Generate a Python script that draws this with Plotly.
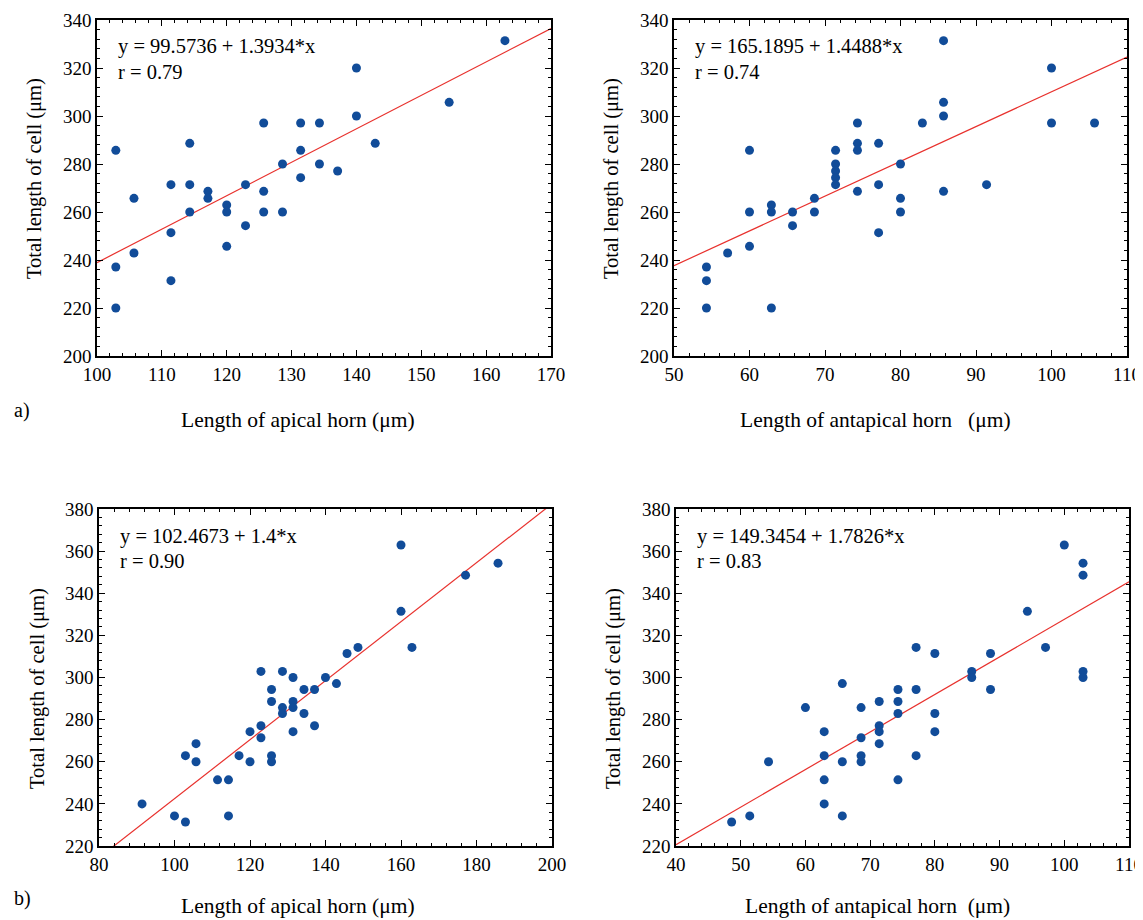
import plotly.graph_objects as go

# ---------------- data ----------------
# a) apical horn vs total length
a_apical_x = [102.9, 102.9, 102.9, 105.7, 105.7, 111.4, 111.4, 111.4, 114.3, 114.3, 114.3,
              117.1, 117.1, 120.0, 120.0, 120.0, 122.9, 122.9, 125.7, 125.7, 125.7, 128.6,
              128.6, 131.4, 131.4, 131.4, 134.3, 134.3, 137.1, 140.0, 140.0, 142.9, 154.3, 162.9]
a_apical_y = [285.7, 237.1, 220.0, 265.7, 242.9, 271.4, 251.4, 231.4, 288.6, 271.4, 260.0,
              268.6, 265.7, 262.9, 260.0, 245.7, 271.4, 254.3, 297.1, 268.6, 260.0, 280.0,
              260.0, 297.1, 285.7, 274.3, 297.1, 280.0, 277.1, 320.0, 300.0, 288.6, 305.7, 331.4]

# a) antapical horn vs total length
a_antapical_x = [54.3, 54.3, 54.3, 57.1, 60.0, 60.0, 60.0, 62.9, 62.9, 62.9, 65.7, 65.7, 68.6,
                 68.6, 71.4, 71.4, 71.4, 71.4, 71.4, 74.3, 74.3, 74.3, 74.3, 77.1, 77.1, 77.1,
                 80.0, 80.0, 80.0, 82.9, 85.7, 85.7, 85.7, 85.7, 91.4, 100.0, 100.0, 105.7]
a_antapical_y = [237.1, 231.4, 220.0, 242.9, 285.7, 260.0, 245.7, 262.9, 260.0, 220.0, 260.0,
                 254.3, 265.7, 260.0, 285.7, 280.0, 277.1, 274.3, 271.4, 297.1, 288.6, 285.7,
                 268.6, 288.6, 271.4, 251.4, 280.0, 265.7, 260.0, 297.1, 331.4, 305.7, 300.0,
                 268.6, 271.4, 320.0, 297.1, 297.1]

# b) apical horn vs total length
b_apical_x = [91.4, 100.0, 102.9, 102.9, 105.7, 105.7, 111.4, 114.3, 114.3, 117.1, 120.0, 120.0,
              122.9, 122.9, 122.9, 125.7, 125.7, 125.7, 125.7, 128.6, 128.6, 128.6, 131.4, 131.4,
              131.4, 131.4, 134.3, 134.3, 137.1, 137.1, 140.0, 142.9, 145.7, 148.6, 160.0, 160.0,
              162.9, 177.1, 185.7]
b_apical_y = [240.0, 234.3, 231.4, 262.9, 268.6, 260.0, 251.4, 251.4, 234.3, 262.9, 274.3, 260.0,
              302.9, 277.1, 271.4, 294.3, 288.6, 262.9, 260.0, 302.9, 285.7, 282.9, 300.0, 288.6,
              285.7, 274.3, 294.3, 282.9, 294.3, 277.1, 300.0, 297.1, 311.4, 314.3, 362.9, 331.4,
              314.3, 348.6, 354.3]

# b) antapical horn vs total length
b_antapical_x = [48.6, 51.4, 54.3, 60.0, 62.9, 62.9, 62.9, 62.9, 65.7, 65.7, 65.7, 68.6, 68.6,
                 68.6, 68.6, 71.4, 71.4, 71.4, 71.4, 74.3, 74.3, 74.3, 74.3, 77.1, 77.1, 77.1,
                 80.0, 80.0, 80.0, 85.7, 85.7, 88.6, 88.6, 94.3, 97.1, 100.0, 102.9, 102.9,
                 102.9, 102.9]
b_antapical_y = [231.4, 234.3, 260.0, 285.7, 274.3, 262.9, 251.4, 240.0, 297.1, 260.0, 234.3,
                 285.7, 271.4, 262.9, 260.0, 288.6, 277.1, 274.3, 268.6, 294.3, 288.6, 282.9,
                 251.4, 314.3, 294.3, 262.9, 311.4, 282.9, 274.3, 302.9, 300.0, 311.4, 294.3,
                 331.4, 314.3, 362.9, 354.3, 348.6, 302.9, 300.0]

# regression coefficients (intercept, slope) and r, as printed
fits = [(99.5736, 1.3934, "0.79", "99.5736", "1.3934"),
        (165.1895, 1.4488, "0.74", "165.1895", "1.4488"),
        (102.4673, 1.4, "0.90", "102.4673", "1.4"),
        (149.3454, 1.7826, "0.83", "149.3454", "1.7826")]

x_ranges = [(100, 170), (50, 110), (80, 200), (40, 110)]
y_ranges = [(200, 340), (200, 340), (220, 380), (220, 380)]
x_dticks = [10, 10, 20, 10]
x_minor = [2, 2, 4, 2]
y_dtick = 20
y_minor = 4

x_titles = ["Length of apical horn (μm)", "Length of antapical horn \u00a0 (μm)",
            "Length of apical horn (μm)", "Length of antapical horn \u00a0(μm)"]
y_title = "Total length of cell (μm)"
panel_labels = ["a)", "b)"]

# ---------------- layout geometry (window pixels) ----------------
OFF = 8                      # page body margin of the browser
WIN_W, WIN_H = 1143, 920
W, H = WIN_W - OFF, WIN_H - OFF

def px(xw):
    return (xw - OFF) / W

def py(yw):
    return 1 - (yw - OFF) / H

# (left, right, top, bottom) of each plot area in window pixels
boxes = [(97, 551, 20, 356), (674, 1127, 20, 356), (99, 552, 509, 846), (676, 1129, 509, 846)]
x_title_pos = [(298, 420), (875, 420), (298, 906), (877, 906)]
y_title_pos = [(34, 179), (611, 179), (37, 689), (613, 689)]

FONT = "Liberation Serif"
DOT = "#114c99"
LINE = "#e8312d"

fig = go.Figure()
datasets = [(a_apical_x, a_apical_y), (a_antapical_x, a_antapical_y),
            (b_apical_x, b_apical_y), (b_antapical_x, b_antapical_y)]

annotations = []
for i, ((xs, ys), (a0, b0, r, a_txt, b_txt)) in enumerate(zip(datasets, fits)):
    n = "" if i == 0 else str(i + 1)
    xa, ya = "x" + n, "y" + n
    x0, x1 = x_ranges[i]
    fig.add_trace(go.Scatter(x=[x0, x1], y=[a0 + b0 * x0, a0 + b0 * x1], mode="lines",
                             line=dict(color=LINE, width=1.2), xaxis=xa, yaxis=ya,
                             showlegend=False, hoverinfo="skip"))
    fig.add_trace(go.Scatter(x=xs, y=ys, mode="markers",
                             marker=dict(color=DOT, size=9, line=dict(width=0)),
                             xaxis=xa, yaxis=ya, showlegend=False, cliponaxis=False))
    l, rgt, t, b = boxes[i]
    axis_common = dict(showline=True, linecolor="black", linewidth=1.6, mirror="ticks",
                       ticks="inside", ticklen=6, tickwidth=1.2, tickcolor="black",
                       showgrid=False, zeroline=False, automargin=False,
                       tickfont=dict(family=FONT, size=19, color="black"))
    fig.layout["xaxis" + n] = dict(
        axis_common, domain=[px(l), px(rgt)], range=list(x_ranges[i]), dtick=x_dticks[i],
        tick0=0, anchor=ya,
        minor=dict(dtick=x_minor[i], ticks="inside", ticklen=3, tickwidth=1, tickcolor="black",
                   showgrid=False))
    fig.layout["yaxis" + n] = dict(
        axis_common, domain=[py(b), py(t)], range=list(y_ranges[i]), dtick=y_dtick,
        tick0=0, anchor=xa,
        minor=dict(dtick=y_minor, ticks="inside", ticklen=3, tickwidth=1, tickcolor="black",
                   showgrid=False))

    # equation text inside the plot
    tx = l + 19
    annotations.append(dict(text=f"y = {a_txt} + {b_txt}*x", x=px(tx), y=py(t + 27),
                            xref="paper", yref="paper", xanchor="left", yanchor="middle",
                            showarrow=False, font=dict(family=FONT, size=20.5, color="black")))
    annotations.append(dict(text=f"r = {r}", x=px(tx), y=py(t + 52),
                            xref="paper", yref="paper", xanchor="left", yanchor="middle",
                            showarrow=False, font=dict(family=FONT, size=20.5, color="black")))
    # axis titles
    xt, yt = x_title_pos[i]
    annotations.append(dict(text=x_titles[i], x=px(xt), y=py(yt),
                            xref="paper", yref="paper", xanchor="center", yanchor="middle",
                            showarrow=False, font=dict(family=FONT, size=21.5, color="black")))
    xt, yt = y_title_pos[i]
    annotations.append(dict(text=y_title, x=px(xt), y=py(yt),
                            xref="paper", yref="paper", xanchor="center", yanchor="middle",
                            textangle=-90, showarrow=False,
                            font=dict(family=FONT, size=20.5, color="black")))

annotations.append(dict(text=panel_labels[0], x=px(12), y=py(410), xref="paper", yref="paper",
                        xanchor="left", yanchor="middle", showarrow=False,
                        font=dict(family=FONT, size=20, color="black")))
annotations.append(dict(text=panel_labels[1], x=px(12), y=py(898), xref="paper", yref="paper",
                        xanchor="left", yanchor="middle", showarrow=False,
                        font=dict(family=FONT, size=20, color="black")))

fig.update_layout(width=W, height=H, margin=dict(l=0, r=0, t=0, b=0, pad=0, autoexpand=False),
                  paper_bgcolor="white", plot_bgcolor="white",
                  annotations=annotations, showlegend=False,
                  font=dict(family=FONT, color="black"))

fig.write_html("out.html")
